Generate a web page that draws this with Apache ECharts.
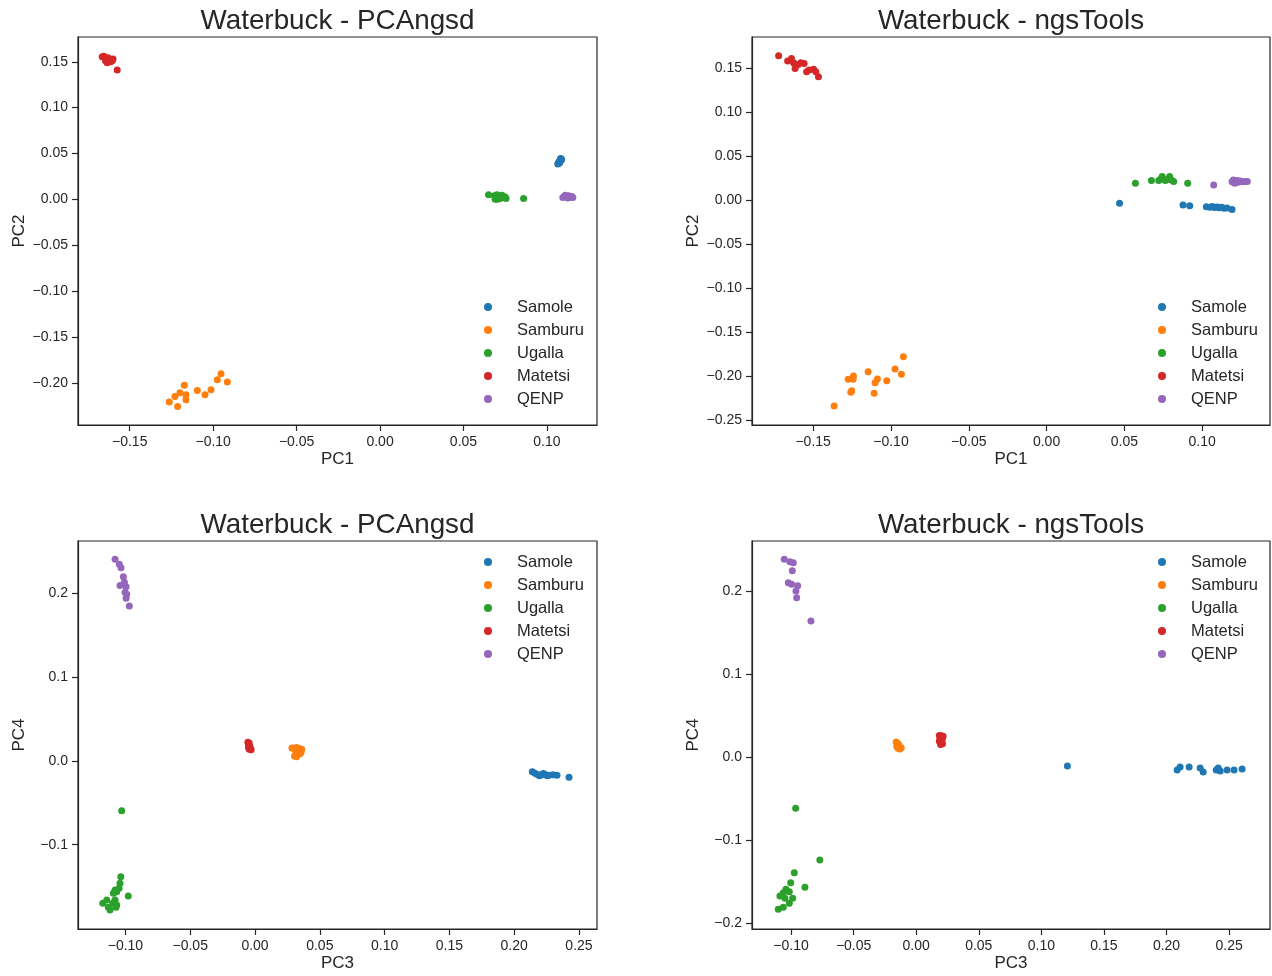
<!DOCTYPE html>
<html>
<head>
<meta charset="utf-8">
<title>Waterbuck PCA</title>
<script src="https://cdn.jsdelivr.net/npm/echarts@6.0.0/dist/echarts.min.js"></script>
<style>
  html, body { margin: 0; padding: 0; background: #fff; }
  #chart { width: 1272px; height: 976px; }
</style>
</head>
<body>
<div id="chart"></div>
<script>
// populations, in legend order
var populations = ['Samole', 'Samburu', 'Ugalla', 'Matetsi', 'QENP'];
var popColors = ['#1f77b4', '#ff7f0e', '#2ca02c', '#d62728', '#9467bd'];

// ---- PCAngsd, PC1 vs PC2 ----
var pcangsd12Samole = [[0.1065,0.0385],[0.1070,0.0395],[0.1075,0.0405],[0.1072,0.0410],[0.1078,0.0420],[0.1080,0.0430],[0.1085,0.0440],[0.1082,0.0445],[0.1088,0.0435],[0.1076,0.0400],[0.1068,0.0392],[0.1084,0.0425]];
var pcangsd12Samburu = [[-0.1263,-0.2210],[-0.1213,-0.2257],[-0.1229,-0.2148],[-0.1199,-0.2108],[-0.1173,-0.2028],[-0.1163,-0.2130],[-0.1163,-0.2184],[-0.1095,-0.2083],[-0.1049,-0.2130],[-0.1013,-0.2075],[-0.0975,-0.1966],[-0.0953,-0.1901],[-0.0915,-0.1992]];
var pcangsd12Ugalla = [[0.0650,0.0050],[0.0685,0.0040],[0.0695,0.0020],[0.0700,0.0050],[0.0710,0.0030],[0.0720,0.0010],[0.0705,0.0000],[0.0730,0.0045],[0.0740,0.0020],[0.0750,0.0025],[0.0755,0.0010],[0.0690,0.0000],[0.0860,0.0010]];
var pcangsd12Matetsi = [[-0.1665,0.1555],[-0.1655,0.1560],[-0.1650,0.1545],[-0.1640,0.1530],[-0.1645,0.1510],[-0.1635,0.1490],[-0.1625,0.1505],[-0.1620,0.1520],[-0.1610,0.1525],[-0.1605,0.1510],[-0.1615,0.1500],[-0.1630,0.1545],[-0.1600,0.1530],[-0.1575,0.1410]];
var pcangsd12Qenp = [[0.1095,0.0020],[0.1105,0.0035],[0.1110,0.0045],[0.1120,0.0030],[0.1130,0.0040],[0.1140,0.0025],[0.1150,0.0030],[0.1125,0.0015],[0.1155,0.0020]];

// ---- ngsTools, PC1 vs PC2 ----
var ngs12Samole = [[0.0469,-0.0038],[0.0877,-0.0057],[0.0920,-0.0068],[0.1027,-0.0078],[0.1050,-0.0085],[0.1065,-0.0075],[0.1080,-0.0088],[0.1095,-0.0080],[0.1110,-0.0090],[0.1125,-0.0085],[0.1140,-0.0095],[0.1160,-0.0092],[0.1192,-0.0110]];
var ngs12Samburu = [[-0.1365,-0.2341],[-0.1258,-0.2185],[-0.1252,-0.2167],[-0.1275,-0.2037],[-0.1243,-0.2037],[-0.1241,-0.2000],[-0.1147,-0.1951],[-0.1108,-0.2197],[-0.1102,-0.2076],[-0.1087,-0.2034],[-0.1027,-0.2053],[-0.0974,-0.1920],[-0.0933,-0.1981],[-0.0920,-0.1781]];
var ngs12Ugalla = [[0.0571,0.0190],[0.0674,0.0219],[0.0721,0.0219],[0.0743,0.0265],[0.0764,0.0219],[0.0791,0.0265],[0.0817,0.0208],[0.0907,0.0190],[0.0732,0.0235],[0.0775,0.0235],[0.0802,0.0227]];
var ngs12Matetsi = [[-0.1722,0.1636],[-0.1664,0.1576],[-0.1639,0.1606],[-0.1626,0.1557],[-0.1616,0.1492],[-0.1596,0.1538],[-0.1579,0.1557],[-0.1558,0.1549],[-0.1542,0.1455],[-0.1526,0.1474],[-0.1497,0.1485],[-0.1483,0.1455],[-0.1466,0.1398]];
var ngs12Qenp = [[0.1074,0.0170],[0.1192,0.0205],[0.1200,0.0225],[0.1215,0.0210],[0.1230,0.0200],[0.1245,0.0215],[0.1260,0.0205],[0.1275,0.0210],[0.1290,0.0210],[0.1210,0.0190],[0.1225,0.0220]];

// ---- PCAngsd, PC3 vs PC4 ----
var pcangsd34Samole = [[0.2140,-0.0130],[0.2160,-0.0145],[0.2180,-0.0160],[0.2195,-0.0175],[0.2210,-0.0165],[0.2225,-0.0150],[0.2240,-0.0160],[0.2255,-0.0175],[0.2270,-0.0170],[0.2300,-0.0165],[0.2330,-0.0170],[0.2423,-0.0195]];
var pcangsd34Samburu = [[0.0285,0.0155],[0.0300,0.0150],[0.0320,0.0160],[0.0340,0.0150],[0.0360,0.0140],[0.0350,0.0120],[0.0330,0.0110],[0.0315,0.0090],[0.0305,0.0060],[0.0320,0.0050],[0.0345,0.0085],[0.0355,0.0105]];
var pcangsd34Ugalla = [[-0.1029,-0.0594],[-0.1036,-0.1382],[-0.1042,-0.1461],[-0.1049,-0.1521],[-0.1080,-0.1541],[-0.1093,-0.1581],[-0.1067,-0.1562],[-0.0978,-0.1613],[-0.1080,-0.1661],[-0.1098,-0.1700],[-0.1067,-0.1720],[-0.1175,-0.1700],[-0.1144,-0.1661],[-0.1132,-0.1748],[-0.1119,-0.1780],[-0.1073,-0.1748]];
var pcangsd34Matetsi = [[-0.0055,0.0225],[-0.0045,0.0215],[-0.0050,0.0200],[-0.0045,0.0185],[-0.0040,0.0170],[-0.0050,0.0160],[-0.0035,0.0150],[-0.0045,0.0140],[-0.0030,0.0135]];
var pcangsd34Qenp = [[-0.1080,0.2410],[-0.1047,0.2350],[-0.1034,0.2309],[-0.1016,0.2202],[-0.1008,0.2135],[-0.1042,0.2095],[-0.0995,0.2082],[-0.1003,0.2016],[-0.0990,0.1992],[-0.0995,0.1944],[-0.0970,0.1852]];

// ---- ngsTools, PC3 vs PC4 ----
var ngs34Samole = [[0.1208,-0.0108],[0.2085,-0.0157],[0.2109,-0.0120],[0.2181,-0.0120],[0.2269,-0.0133],[0.2293,-0.0181],[0.2397,-0.0157],[0.2413,-0.0133],[0.2429,-0.0169],[0.2484,-0.0157],[0.2540,-0.0157],[0.2604,-0.0145]];
var ngs34Samburu = [[-0.0160,0.0180],[-0.0150,0.0165],[-0.0140,0.0150],[-0.0150,0.0135],[-0.0135,0.0120],[-0.0145,0.0105],[-0.0130,0.0095],[-0.0120,0.0110],[-0.0155,0.0125]];
var ngs34Ugalla = [[-0.0963,-0.0618],[-0.0770,-0.1241],[-0.0974,-0.1394],[-0.1003,-0.1514],[-0.1041,-0.1594],[-0.0889,-0.1570],[-0.1062,-0.1635],[-0.1014,-0.1623],[-0.1089,-0.1675],[-0.0987,-0.1702],[-0.1049,-0.1702],[-0.1014,-0.1763],[-0.1062,-0.1811],[-0.1102,-0.1835]];
var ngs34Matetsi = [[0.0185,0.0260],[0.0200,0.0255],[0.0215,0.0250],[0.0195,0.0235],[0.0210,0.0225],[0.0190,0.0215],[0.0205,0.0200],[0.0185,0.0190],[0.0200,0.0175],[0.0210,0.0160],[0.0195,0.0150]];
var ngs34Qenp = [[-0.1054,0.2382],[-0.1009,0.2353],[-0.0982,0.2341],[-0.0990,0.2245],[-0.1022,0.2100],[-0.0995,0.2081],[-0.0947,0.2064],[-0.0961,0.2000],[-0.0955,0.1919],[-0.0841,0.1639]];

// tick values
var ticksPC1 = [-0.15, -0.10, -0.05, 0.00, 0.05, 0.10];
var ticksPC2left = [-0.20, -0.15, -0.10, -0.05, 0.00, 0.05, 0.10, 0.15];
var ticksPC2right = [-0.25, -0.20, -0.15, -0.10, -0.05, 0.00, 0.05, 0.10, 0.15];
var ticksPC3 = [-0.10, -0.05, 0.00, 0.05, 0.10, 0.15, 0.20, 0.25];
var ticksPC4left = [-0.1, 0.0, 0.1, 0.2];
var ticksPC4right = [-0.2, -0.1, 0.0, 0.1, 0.2];

var titles = ['Waterbuck - PCAngsd', 'Waterbuck - ngsTools', 'Waterbuck - PCAngsd', 'Waterbuck - ngsTools'];

var panelData = [
  [pcangsd12Samole, pcangsd12Samburu, pcangsd12Ugalla, pcangsd12Matetsi, pcangsd12Qenp],
  [ngs12Samole, ngs12Samburu, ngs12Ugalla, ngs12Matetsi, ngs12Qenp],
  [pcangsd34Samole, pcangsd34Samburu, pcangsd34Ugalla, pcangsd34Matetsi, pcangsd34Qenp],
  [ngs34Samole, ngs34Samburu, ngs34Ugalla, ngs34Matetsi, ngs34Qenp]
];

var FONT = '"Liberation Sans", Arial, sans-serif';
var INK = '#262626';

// panel frames (px) and axis ranges
var frames = [
  {left: 78,  top: 37,  width: 519, height: 388, xr: [-0.181, 0.130],   yr: [-0.246, 0.177],   xt: ticksPC1, yt: ticksPC2left,  xd: 2, yd: 2, xn: 'PC1', yn: 'PC2', legTop: 298},
  {left: 752, top: 37,  width: 518, height: 388, xr: [-0.1893, 0.1436], yr: [-0.2557, 0.185],  xt: ticksPC1, yt: ticksPC2right, xd: 2, yd: 2, xn: 'PC1', yn: 'PC2', legTop: 298},
  {left: 78,  top: 541, width: 519, height: 388, xr: [-0.1366, 0.2639], yr: [-0.2007, 0.2628], xt: ticksPC3, yt: ticksPC4left,  xd: 2, yd: 1, xn: 'PC3', yn: 'PC4', legTop: 553},
  {left: 752, top: 541, width: 518, height: 388, xr: [-0.1312, 0.2827], yr: [-0.2072, 0.2602], xt: ticksPC3, yt: ticksPC4right, xd: 2, yd: 1, xn: 'PC3', yn: 'PC4', legTop: 553}
];

function fmt(d) {
  return function (v) { return v.toFixed(d).replace('-', '\u2212'); };
}

function makeAxis(i, min, max, ticks, dec, name, isX) {
  return {
    type: 'value',
    gridIndex: i,
    min: min,
    max: max,
    name: name,
    nameLocation: 'middle',
    nameGap: isX ? 26 : 50,
    nameTextStyle: {fontFamily: FONT, fontSize: 17, color: INK},
    axisLine: {show: true, onZero: false, lineStyle: {color: INK, width: 1.2}},
    axisTick: {show: true, length: 6, customValues: ticks, lineStyle: {color: INK, width: 1.2}},
    axisLabel: {customValues: ticks, formatter: fmt(dec), margin: 10,
      fontFamily: FONT, fontSize: 14, color: INK},
    splitLine: {show: false}
  };
}

var grids = [], xAxes = [], yAxes = [], titleList = [], legends = [], series = [];
frames.forEach(function (f, i) {
  grids.push({left: f.left, top: f.top, width: f.width, height: f.height,
    show: true, borderColor: INK, borderWidth: 1.2, backgroundColor: '#fff'});
  xAxes.push(makeAxis(i, f.xr[0], f.xr[1], f.xt, f.xd, f.xn, true));
  yAxes.push(makeAxis(i, f.yr[0], f.yr[1], f.yt, f.yd, f.yn, false));
  titleList.push({text: titles[i], left: f.left + f.width / 2, top: f.top - 30, textAlign: 'center',
    padding: 0,
    textStyle: {fontFamily: FONT, fontSize: 27.8, fontWeight: 'normal', color: INK}});
  legends.push({data: populations, orient: 'vertical', left: f.left + 386 + 20, top: f.legTop,
    padding: 0, itemGap: 5, itemWidth: 48, itemHeight: 8, icon: 'circle',
    textStyle: {fontFamily: FONT, fontSize: 16.5, lineHeight: 18, color: INK}});
  populations.forEach(function (p, k) {
    series.push({type: 'scatter', name: p, xAxisIndex: i, yAxisIndex: i,
      data: panelData[i][k], symbolSize: 7, itemStyle: {color: popColors[k], opacity: 1}});
  });
});

var chart = echarts.init(document.getElementById('chart'), null, {renderer: 'canvas'});
chart.setOption({
  animation: false,
  color: popColors,
  title: titleList,
  legend: legends,
  grid: grids,
  xAxis: xAxes,
  yAxis: yAxes,
  series: series
});
</script>
</body>
</html>
